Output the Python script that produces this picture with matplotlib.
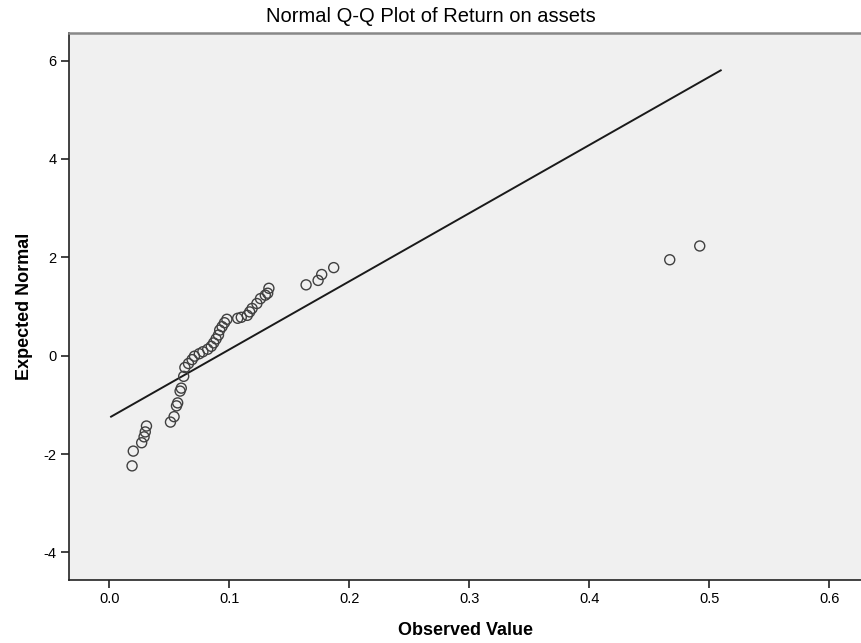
import numpy as np
import matplotlib
matplotlib.use("Agg")
import matplotlib.pyplot as plt

plt.rcParams['font.family'] = ['Liberation Sans', 'DejaVu Sans']
plt.rcParams['axes.unicode_minus'] = False

observed = [0.019, 0.020, 0.027, 0.029, 0.030, 0.031, 0.051, 0.054, 0.056, 0.057,
            0.059, 0.060, 0.062, 0.063, 0.066, 0.069, 0.071, 0.075, 0.078, 0.082,
            0.085, 0.087, 0.089, 0.091, 0.092, 0.094, 0.096, 0.098, 0.107, 0.110,
            0.115, 0.117, 0.119, 0.123, 0.126, 0.130, 0.132, 0.133, 0.164, 0.174,
            0.177, 0.187, 0.467, 0.492]
expected = [-2.24, -1.94, -1.77, -1.65, -1.55, -1.43, -1.35, -1.24, -1.02, -0.96,
            -0.72, -0.66, -0.42, -0.24, -0.16, -0.08, -0.01, 0.04, 0.08, 0.13,
            0.19, 0.26, 0.34, 0.42, 0.52, 0.59, 0.67, 0.74, 0.76, 0.78,
            0.82, 0.89, 0.96, 1.06, 1.16, 1.23, 1.27, 1.37, 1.44, 1.53,
            1.65, 1.79, 1.95, 2.23]

# reference line endpoints
line_x = [0.0015, 0.5095]
line_y = [-1.24, 5.80]

xticks = [0.0, 0.1, 0.2, 0.3, 0.4, 0.5, 0.6]
yticks = [-4, -2, 0, 2, 4, 6]

fig = plt.figure(figsize=(8.62, 6.43), dpi=100)
ax = fig.add_axes([0.0804, 0.098, 0.9196, 0.8507])
ax.set_facecolor('#F0F0F0')

ax.plot(line_x, line_y, color='#1a1a1a', lw=1.4, zorder=2)
ax.scatter(observed, expected, s=52, facecolors='none', edgecolors='#404040',
           linewidths=1.0, zorder=3)

ax.set_xlim(-0.0333, 0.6272)
ax.set_ylim(-4.56, 6.56)
ax.set_xticks(xticks)
ax.set_xticklabels(['%.1f' % t for t in xticks])
ax.set_yticks(yticks)
ax.tick_params(direction='out', length=6, width=1.2, color='#222222',
               labelsize=10.5, pad=3)

ax.spines['right'].set_visible(False)
ax.spines['top'].set_color('#888888')
ax.spines['top'].set_linewidth(1.8)
for s in ['left', 'bottom']:
    ax.spines[s].set_color('#222222')
    ax.spines[s].set_linewidth(1.2)

ax.set_xlabel('Observed Value', fontsize=13, fontweight='bold', labelpad=11)
ax.set_ylabel('Expected Normal', fontsize=13, fontweight='bold', labelpad=8)
fig.text(0.5, 0.975, 'Normal Q-Q Plot of Return on assets', ha='center',
         va='center', fontsize=14.5)

fig.savefig('out.png', dpi=100)
